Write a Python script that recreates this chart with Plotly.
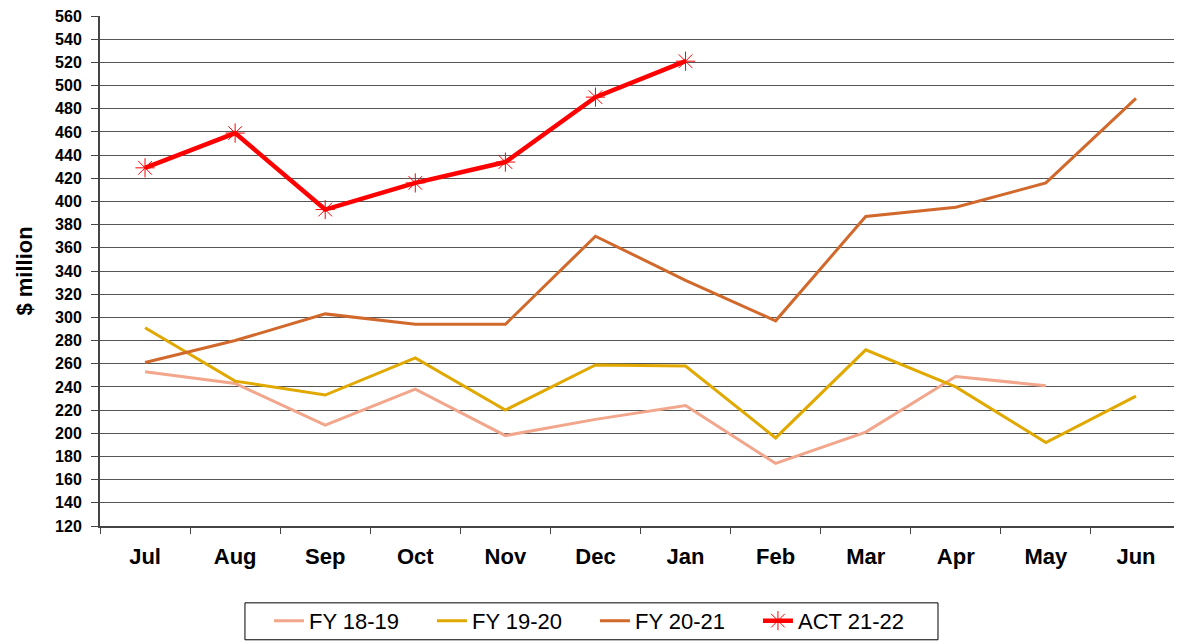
import plotly.graph_objects as go

months = ["Jul", "Aug", "Sep", "Oct", "Nov", "Dec", "Jan", "Feb", "Mar", "Apr", "May", "Jun"]
fy1819 = [253, 243, 207, 238, 198, 212, 224, 174, 201, 249, 241, None]
fy1920 = [291, 245, 233, 265, 220, 259, 258, 196, 272, 240, 192, 232]
fy2021 = [261, 280, 303, 294, 294, 370, 332, 297, 387, 395, 416, 489]
act2122 = [429, 459, 393, 416, 434, 490, 521]
yticks = list(range(120, 561, 20))

FONT = "Liberation Sans, Arial, sans-serif"

fig = go.Figure()
fig.add_trace(go.Scatter(x=months, y=fy1819, name="FY 18-19", mode="lines",
                         line=dict(color="#F2A68B", width=3)))
fig.add_trace(go.Scatter(x=months, y=fy1920, name="FY 19-20", mode="lines",
                         line=dict(color="#E1A900", width=3)))
fig.add_trace(go.Scatter(x=months, y=fy2021, name="FY 20-21", mode="lines",
                         line=dict(color="#D2692C", width=3)))
fig.add_trace(go.Scatter(x=months[:len(act2122)], y=act2122, name="ACT 21-22", mode="lines+markers",
                         line=dict(color="#FF0000", width=4.5),
                         marker=dict(symbol="asterisk-open", size=16, color="#FF0000",
                                     line=dict(color="#FF2020", width=1))))

fig.update_layout(
    width=1174, height=640,
    margin=dict(l=92, r=1, t=8, b=122, autoexpand=False),
    paper_bgcolor="white", plot_bgcolor="white",
    font=dict(family=FONT, color="black"),
    showlegend=True,
    legend=dict(orientation="h", x=0.1563, xanchor="left", y=-0.1448, yanchor="top",
                borderwidth=0, bgcolor="rgba(0,0,0,0)", font=dict(size=22, family=FONT),
                entrywidth=118, itemwidth=30, tracegroupgap=0),
)
fig.update_xaxes(
    type="category", categoryorder="array", categoryarray=months,
    tickson="boundaries", ticks="outside", ticklen=6, tickcolor="#444",
    showline=True, linecolor="#444", linewidth=2,
    showgrid=False, tickfont=dict(size=22, family=FONT, color="black"),
    tickvals=months, ticktext=["<b>%s</b>" % m for m in months],
    ticklabelstandoff=10, automargin=False,
    range=[-0.5, 11.5],
)
fig.update_yaxes(
    range=[120, 560],
    ticks="outside", ticklen=7, tickcolor="#444",
    showline=True, linecolor="#444", linewidth=2,
    showgrid=True, gridcolor="#555", gridwidth=1,
    tickfont=dict(size=16, family=FONT, color="black"),
    tickvals=yticks, ticktext=["<b>%d</b>" % v for v in yticks],
    ticklabelstandoff=6, ticklabeloverflow="allow", automargin=False,
    title=dict(text="<b>$ million</b>", font=dict(size=22, family=FONT), standoff=16),
    zeroline=False,
)

# right border of the plot area
fig.add_shape(type="line", xref="paper", yref="paper", x0=1, x1=1, y0=0, y1=1,
              line=dict(color="#888", width=1))
# legend frame
fig.add_shape(type="rect", xref="paper", yref="paper", x0=0.1341, x1=0.7752, y0=-0.1507, y1=-0.2231,
              line=dict(color="black", width=1), fillcolor="rgba(0,0,0,0)")

fig.write_html("out.html")
